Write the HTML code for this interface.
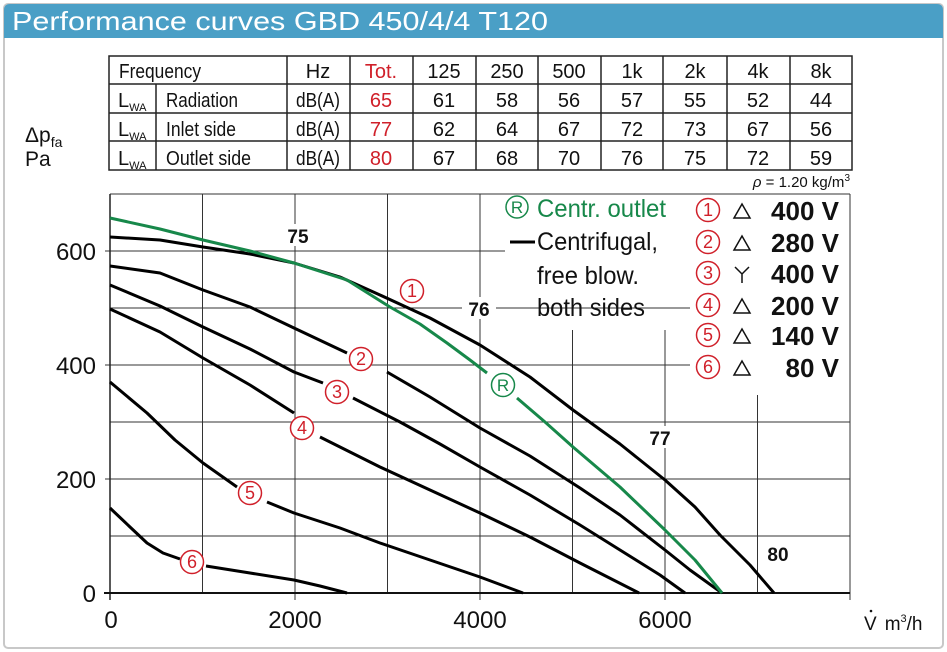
<!DOCTYPE html>
<html><head><meta charset="utf-8"><style>
html,body{margin:0;padding:0;background:#fff;}
svg{display:block;font-family:"Liberation Sans",sans-serif;}
</style></head><body>
<svg width="947" height="652" viewBox="0 0 947 652">
<rect x="4" y="4" width="939" height="644" rx="4" fill="#fff" stroke="#c8c8c8" stroke-width="2"/>
<path d="M4 38 V10 Q4 4 10 4 H937 Q943 4 943 10 V38 Z" fill="#4a9fc6"/>
<text x="12" y="30" font-size="26" fill="#fff" textLength="536" lengthAdjust="spacingAndGlyphs">Performance curves GBD 450/4/4 T120</text>

<g stroke="#222" stroke-width="1.5" fill="none">
<rect x="109" y="56" width="743" height="114"/>
<line x1="109" y1="84" x2="852" y2="84"/><line x1="109" y1="113" x2="852" y2="113"/><line x1="109" y1="141" x2="852" y2="141"/>
<line x1="156" y1="84" x2="156" y2="170"/>
<line x1="287" y1="56" x2="287" y2="170"/><line x1="350" y1="56" x2="350" y2="170"/><line x1="413" y1="56" x2="413" y2="170"/>
<line x1="476" y1="56" x2="476" y2="170"/><line x1="538" y1="56" x2="538" y2="170"/><line x1="601" y1="56" x2="601" y2="170"/>
<line x1="663" y1="56" x2="663" y2="170"/><line x1="727" y1="56" x2="727" y2="170"/><line x1="790" y1="56" x2="790" y2="170"/>
</g>
<g font-size="20" fill="#111" text-anchor="middle">
<text x="160" y="78" textLength="82" lengthAdjust="spacingAndGlyphs">Frequency</text>
<text x="318" y="78">Hz</text><text x="381" y="78" fill="#d0202a">Tot.</text>
<text x="444" y="78">125</text><text x="507" y="78">250</text><text x="569" y="78">500</text><text x="632" y="78">1k</text><text x="695" y="78">2k</text><text x="758" y="78">4k</text><text x="821" y="78">8k</text>
<g text-anchor="start">
<text x="118" y="107">L<tspan font-size="11" dy="4">WA</tspan></text>
<text x="118" y="136">L<tspan font-size="11" dy="4">WA</tspan></text>
<text x="118" y="165">L<tspan font-size="11" dy="4">WA</tspan></text>
<text x="166" y="107" textLength="72" lengthAdjust="spacingAndGlyphs">Radiation</text>
<text x="166" y="136" textLength="70" lengthAdjust="spacingAndGlyphs">Inlet side</text>
<text x="166" y="165" textLength="85" lengthAdjust="spacingAndGlyphs">Outlet side</text>
</g>
<text x="318" y="107" textLength="44" lengthAdjust="spacingAndGlyphs">dB(A)</text>
<text x="318" y="136" textLength="44" lengthAdjust="spacingAndGlyphs">dB(A)</text>
<text x="318" y="165" textLength="44" lengthAdjust="spacingAndGlyphs">dB(A)</text>
<g fill="#d0202a"><text x="381" y="107">65</text><text x="381" y="136">77</text><text x="381" y="165">80</text></g>
<text x="444" y="107">61</text><text x="507" y="107">58</text><text x="569" y="107">56</text><text x="632" y="107">57</text><text x="695" y="107">55</text><text x="758" y="107">52</text><text x="821" y="107">44</text>
<text x="444" y="136">62</text><text x="507" y="136">64</text><text x="569" y="136">67</text><text x="632" y="136">72</text><text x="695" y="136">73</text><text x="758" y="136">67</text><text x="821" y="136">56</text>
<text x="444" y="165">67</text><text x="507" y="165">68</text><text x="569" y="165">70</text><text x="632" y="165">76</text><text x="695" y="165">75</text><text x="758" y="165">72</text><text x="821" y="165">59</text>
</g>
<text x="850" y="187" font-size="15" text-anchor="end" fill="#111"><tspan font-style="italic">ρ</tspan> = 1.20 kg/m<tspan font-size="10" dy="-6">3</tspan></text>
<text x="25" y="142" font-size="21" fill="#111">Δp<tspan font-size="14" dy="5">fa</tspan></text>
<text x="25" y="166" font-size="21" fill="#111">Pa</text>

<g stroke="#333" stroke-width="1">
<line x1="110" y1="194" x2="850" y2="194"/>
<line x1="110" y1="251" x2="505" y2="251"/>
<line x1="110" y1="308" x2="690" y2="308"/>
<line x1="110" y1="365" x2="690" y2="365"/>
<line x1="110" y1="422" x2="850" y2="422"/>
<line x1="110" y1="479" x2="850" y2="479"/>
<line x1="110" y1="536" x2="850" y2="536"/>
<line x1="202.5" y1="194" x2="202.5" y2="593"/><line x1="295" y1="194" x2="295" y2="600"/>
<line x1="387.5" y1="194" x2="387.5" y2="593"/><line x1="480" y1="194" x2="480" y2="600"/>
<line x1="572.5" y1="330" x2="572.5" y2="593"/><line x1="665" y1="330" x2="665" y2="600"/>
<line x1="757.5" y1="395" x2="757.5" y2="593"/><line x1="850" y1="194" x2="850" y2="600"/>
<line x1="105" y1="251" x2="110" y2="251"/><line x1="105" y1="365" x2="110" y2="365"/><line x1="105" y1="479" x2="110" y2="479"/>
</g>
<line x1="110" y1="194" x2="110" y2="600" stroke="#222" stroke-width="1.5"/>
<line x1="104" y1="593" x2="850" y2="593" stroke="#111" stroke-width="2"/>

<g fill="none" stroke="#000" stroke-width="3" stroke-linejoin="round" stroke-linecap="butt">
<polyline points="110,237 160,240 203,247 250,254 294,263 340,277 380,295 430,318 480,345 530,377 573,410 620,444 665,480 695,507 720,535 750,565 774,593"/>
<polyline points="110,266 160,273 203,290 250,307 294,328 347,353"/>
<polyline points="387,372 430,397 480,428 530,456 580,488 620,515 665,550 690,570 722,593"/>
<polyline points="110,285 160,306 203,327 250,349 294,372 323,383"/>
<polyline points="353,398 400,422 440,444 480,467 530,495 580,525 620,550 660,575 685,593"/>
<polyline points="110,309 160,332 203,358 250,385 294,413"/>
<polyline points="320,437 350,452 380,467 430,490 480,513 530,537 580,563 639,593"/>
<polyline points="110,382 147,413 175,440 203,463 237,487"/>
<polyline points="267,502 294,513 340,528 380,543 430,560 480,577 523,593"/>
<polyline points="110,508 130,527 147,543 163,553 180,559"/>
<polyline points="206,566 250,573 294,580 320,586 347,593"/>
</g>
<g fill="none" stroke="#17884a" stroke-width="3" stroke-linejoin="round">
<polyline points="110,218 160,229 203,240 250,251 294,263 347,280 390,307 420,324 447,343 470,360 487,373"/>
<polyline points="517,398 545,422 573,447 620,487 665,530 695,560 722,593"/>
</g>

<g font-size="19" font-weight="bold" fill="#111" text-anchor="middle">
<rect x="282" y="224" width="32" height="22" fill="#fff"/><text x="298" y="243">75</text>
<rect x="462" y="297" width="34" height="22" fill="#fff"/><text x="479" y="316">76</text>
<rect x="644" y="426" width="32" height="22" fill="#fff"/><text x="660" y="445">77</text>
<rect x="762" y="542" width="32" height="22" fill="#fff"/><text x="778" y="561">80</text>
</g>
<g stroke="#d0202a" stroke-width="1.5" fill="#fff">
<circle cx="412" cy="291" r="11.5"/><circle cx="361" cy="359" r="11.5"/><circle cx="337" cy="392" r="11.5"/>
<circle cx="302" cy="428" r="11.5"/><circle cx="250" cy="493" r="11.5"/><circle cx="192" cy="562" r="11.5"/>
</g>
<g font-size="18" fill="#d0202a" text-anchor="middle">
<text x="412" y="297">1</text><text x="361" y="365">2</text><text x="337" y="398">3</text>
<text x="302" y="434">4</text><text x="250" y="499">5</text><text x="192" y="568">6</text>
</g>
<circle cx="503" cy="385" r="11.5" fill="#fff" stroke="#17884a" stroke-width="1.5"/>
<text x="503" y="391" font-size="17" fill="#17884a" text-anchor="middle">R</text>

<circle cx="517" cy="207" r="11" fill="none" stroke="#17884a" stroke-width="1.5"/>
<text x="517" y="213" font-size="17" fill="#17884a" text-anchor="middle">R</text>
<text x="537" y="217" font-size="25" fill="#17884a" textLength="129" lengthAdjust="spacingAndGlyphs">Centr. outlet</text>
<line x1="510" y1="242" x2="535" y2="242" stroke="#000" stroke-width="3"/>
<g font-size="25" fill="#111">
<text x="537" y="250" textLength="121" lengthAdjust="spacingAndGlyphs">Centrifugal,</text>
<text x="537" y="284" textLength="102" lengthAdjust="spacingAndGlyphs">free blow.</text>
<text x="537" y="316" textLength="108" lengthAdjust="spacingAndGlyphs">both sides</text>
</g>
<g stroke="#d0202a" stroke-width="1.5" fill="#fff">
<circle cx="708" cy="210" r="11.5"/><circle cx="708" cy="242" r="11.5"/><circle cx="708" cy="273" r="11.5"/>
<circle cx="708" cy="305" r="11.5"/><circle cx="708" cy="335" r="11.5"/><circle cx="708" cy="367" r="11.5"/>
</g>
<g font-size="18" fill="#d0202a" text-anchor="middle">
<text x="708" y="216">1</text><text x="708" y="248">2</text><text x="708" y="279">3</text>
<text x="708" y="311">4</text><text x="708" y="341">5</text><text x="708" y="373">6</text>
</g>
<g fill="none" stroke="#111" stroke-width="1.5">
<path d="M734 218 L742 204 L750 218 Z"/><path d="M734 250 L742 236 L750 250 Z"/>
<path d="M735 267 L742 274 L749 267 M742 274 L742 283"/>
<path d="M734 313 L742 299 L750 313 Z"/><path d="M734 343 L742 329 L750 343 Z"/><path d="M734 375 L742 361 L750 375 Z"/>
</g>
<g font-size="26" font-weight="bold" fill="#111" text-anchor="end">
<text x="839" y="220">400 V</text><text x="839" y="252">280 V</text><text x="839" y="283">400 V</text>
<text x="839" y="315">200 V</text><text x="839" y="345">140 V</text><text x="839" y="377">80 V</text>
</g>

<g font-size="24" fill="#111">
<g text-anchor="end">
<text x="96" y="260">600</text><text x="96" y="374">400</text><text x="96" y="488">200</text><text x="96" y="602">0</text>
</g>
<g text-anchor="middle">
<text x="111" y="628">0</text><text x="295" y="628">2000</text><text x="480" y="628">4000</text><text x="665" y="628">6000</text>
</g>
</g>
<text x="864" y="630" font-size="19" fill="#111">V<tspan dx="8">m</tspan><tspan font-size="11" dy="-8">3</tspan><tspan dy="8">/h</tspan></text>
<circle cx="871" cy="611" r="1.3" fill="#111"/>
</svg>
</body></html>
